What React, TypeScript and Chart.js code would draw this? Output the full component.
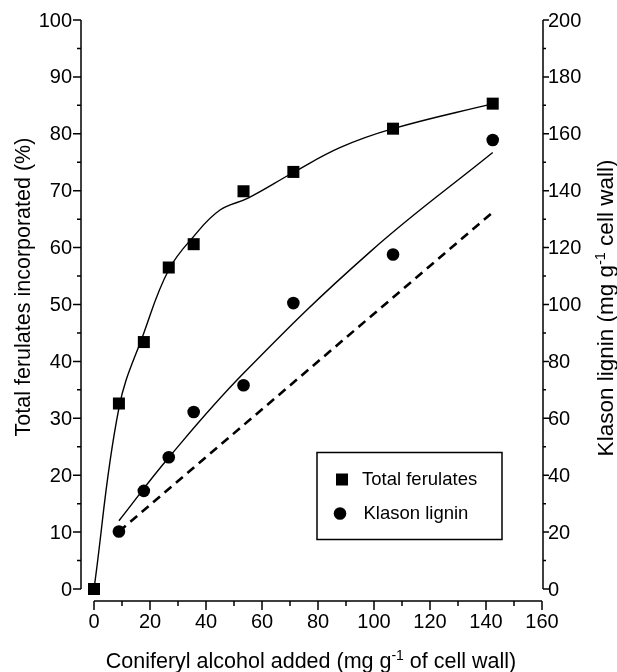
import React, { useEffect, useRef } from 'react';
import { Chart, registerables } from 'chart.js';

Chart.register(...registerables);

// ---- data ----
const additionX = [0, 8.9, 17.8, 26.7, 35.6, 53.4, 71.2, 106.8, 142.4];
const totalFerulates = [0, 32.6, 43.4, 56.5, 60.6, 69.9, 73.3, 80.9, 85.3];

const ligninX = [8.9, 17.8, 26.7, 35.6, 53.4, 71.2, 106.8, 142.4];
const klasonLignin = [20.2, 34.5, 46.3, 62.2, 71.6, 100.5, 117.6, 157.8];

// fitted curves
const ferulatesFitX = [0, 8.9, 17.8, 26.7, 36, 45, 55, 71.2, 88, 106.8, 142.4];
const ferulatesFit = [0, 31.8, 45.0, 56.1, 62.2, 66.6, 68.7, 73.2, 77.6, 80.9, 85.3];

const ligninFitX = [8.9, 26.7, 53.4, 98.6, 142.4];
const ligninFit = [24, 46.2, 75.8, 118.5, 153.4];

const dashedX = [8.9, 142.4];
const dashedY = [20.2, 132.4];

// axes
const xMajor = [0, 20, 40, 60, 80, 100, 120, 140, 160];
const xMinor = [10, 30, 50, 70, 90, 110, 130, 150];
const leftMajor = [0, 10, 20, 30, 40, 50, 60, 70, 80, 90, 100];
const leftMinor = [5, 15, 25, 35, 45, 55, 65, 75, 85, 95];
const rightMajor = [0, 20, 40, 60, 80, 100, 120, 140, 160, 180, 200];
const rightMinor = [10, 30, 50, 70, 90, 110, 130, 150, 170, 190];

const xTitle = ['Coniferyl alcohol added (mg g', '-1', ' of cell wall)'];
const leftTitle = 'Total ferulates incorporated (%)';
const rightTitle = ['Klason lignin (mg g', '-1', ' cell wall)'];

const FONT = '"Liberation Sans", Arial, Helvetica, sans-serif';

const toXY = (xs: number[], ys: number[]) => xs.map((x, i) => ({ x, y: ys[i] }));

function drawRuns(ctx: CanvasRenderingContext2D, parts: string[], cx: number, baseY: number, size: number, supSize: number, supRaise: number) {
  const fonts = parts.map((_, i) => (i % 2 === 1 ? `${supSize}px ${FONT}` : `${size}px ${FONT}`));
  let total = 0;
  const widths = parts.map((p, i) => {
    ctx.font = fonts[i];
    const w = ctx.measureText(p).width;
    total += w;
    return w;
  });
  let x = cx - total / 2;
  ctx.textAlign = 'left';
  ctx.textBaseline = 'alphabetic';
  parts.forEach((p, i) => {
    ctx.font = fonts[i];
    ctx.fillText(p, x, i % 2 === 1 ? baseY - supRaise : baseY);
    x += widths[i];
  });
}

const axesPlugin = {
  id: 'paperAxes',
  afterDraw(chart: any) {
    const ctx: CanvasRenderingContext2D = chart.ctx;
    const xs = chart.scales.x;
    const yl = chart.scales.y;
    const yr = chart.scales.y2;
    const tickFont = `20px ${FONT}`;
    ctx.save();
    ctx.strokeStyle = '#000';
    ctx.fillStyle = '#000';
    ctx.lineWidth = 1.5;

    // left axis (detached)
    const lx = xs.left - 13;
    ctx.beginPath();
    ctx.moveTo(lx, yl.getPixelForValue(100));
    ctx.lineTo(lx, yl.getPixelForValue(0));
    leftMajor.forEach(v => { const y = yl.getPixelForValue(v); ctx.moveTo(lx, y); ctx.lineTo(lx - 8, y); });
    leftMinor.forEach(v => { const y = yl.getPixelForValue(v); ctx.moveTo(lx, y); ctx.lineTo(lx - 4, y); });
    ctx.stroke();
    ctx.font = tickFont;
    ctx.textAlign = 'right';
    ctx.textBaseline = 'middle';
    leftMajor.forEach(v => ctx.fillText(String(v), lx - 9, yl.getPixelForValue(v) + 1));

    // right axis
    const rx = xs.right + 1;
    ctx.beginPath();
    ctx.moveTo(rx, yr.getPixelForValue(200));
    ctx.lineTo(rx, yr.getPixelForValue(0));
    rightMajor.forEach(v => { const y = yr.getPixelForValue(v); ctx.moveTo(rx, y); ctx.lineTo(rx + 6, y); });
    rightMinor.forEach(v => { const y = yr.getPixelForValue(v); ctx.moveTo(rx, y); ctx.lineTo(rx + 3, y); });
    ctx.stroke();
    ctx.textAlign = 'left';
    rightMajor.forEach(v => ctx.fillText(String(v), rx + 5, yr.getPixelForValue(v) + 1));

    // bottom axis (detached)
    const by = yl.bottom + 12;
    ctx.beginPath();
    ctx.moveTo(xs.getPixelForValue(0), by);
    ctx.lineTo(xs.getPixelForValue(160), by);
    xMajor.forEach(v => { const x = xs.getPixelForValue(v); ctx.moveTo(x, by); ctx.lineTo(x, by + 9); });
    xMinor.forEach(v => { const x = xs.getPixelForValue(v); ctx.moveTo(x, by); ctx.lineTo(x, by + 5); });
    ctx.stroke();
    ctx.textAlign = 'center';
    ctx.textBaseline = 'top';
    xMajor.forEach(v => ctx.fillText(String(v), xs.getPixelForValue(v), by + 11));

    // titles
    drawRuns(ctx, xTitle, 311, 668, 21.5, 14, 8);

    ctx.save();
    ctx.translate(30, 287);
    ctx.rotate(-Math.PI / 2);
    drawRuns(ctx, [leftTitle], 0, 0, 21.5, 14, 8);
    ctx.restore();

    ctx.save();
    ctx.translate(613, 308);
    ctx.rotate(-Math.PI / 2);
    drawRuns(ctx, rightTitle, 0, 0, 22.5, 14.5, 8);
    ctx.restore();

    // legend box
    const bx = 317, bTop = 452.5, bw = 185, bh = 87;
    ctx.lineWidth = 1.5;
    ctx.strokeRect(bx, bTop, bw, bh);
    const ds = chart.data.datasets;
    ctx.font = `18.5px ${FONT}`;
    ctx.textAlign = 'left';
    ctx.textBaseline = 'middle';
    ctx.fillRect(bx + 19, bTop + 21, 12, 12);
    ctx.fillText(ds[0].label, bx + 45, bTop + 27.5);
    ctx.beginPath();
    ctx.arc(bx + 23, bTop + 61, 6.3, 0, Math.PI * 2);
    ctx.fill();
    ctx.fillText(ds[1].label, bx + 46.5, bTop + 61.5);

    ctx.restore();
  },
};

export default function App() {
  const canvasRef = useRef<HTMLCanvasElement | null>(null);

  useEffect(() => {
    document.body.style.margin = '0';
    const canvas = canvasRef.current;
    if (!canvas) return;
    const chart = new Chart(canvas, {
      type: 'line',
      data: {
        datasets: [
          {
            label: 'Total ferulates',
            data: toXY(additionX, totalFerulates),
            yAxisID: 'y',
            showLine: false,
            pointStyle: 'rect',
            pointRadius: 8.5,
            pointBackgroundColor: '#000',
            pointBorderWidth: 0,
            borderColor: '#000',
            clip: false,
          },
          {
            label: 'Klason lignin',
            data: toXY(ligninX, klasonLignin),
            yAxisID: 'y2',
            showLine: false,
            pointStyle: 'circle',
            pointRadius: 6.3,
            pointBackgroundColor: '#000',
            pointBorderWidth: 0,
            borderColor: '#000',
            clip: false,
          },
          {
            label: 'Total ferulates fit',
            data: toXY(ferulatesFitX, ferulatesFit),
            yAxisID: 'y',
            borderColor: '#000',
            borderWidth: 1.4,
            pointRadius: 0,
            tension: 0.4,
            fill: false,
            clip: false,
          },
          {
            label: 'Klason lignin fit',
            data: toXY(ligninFitX, ligninFit),
            yAxisID: 'y2',
            borderColor: '#000',
            borderWidth: 1.4,
            pointRadius: 0,
            tension: 0.4,
            fill: false,
            clip: false,
          },
          {
            label: 'Dashed',
            data: toXY(dashedX, dashedY),
            yAxisID: 'y2',
            borderColor: '#000',
            borderWidth: 2.6,
            borderDash: [9, 6],
            pointRadius: 0,
            tension: 0,
            fill: false,
            clip: false,
          },
        ],
      },
      options: {
        animation: false,
        responsive: true,
        maintainAspectRatio: false,
        layout: { padding: { left: 94, right: 75, top: 20, bottom: 83 } },
        plugins: { legend: { display: false }, tooltip: { enabled: false } },
        scales: {
          x: { type: 'linear', min: 0, max: 160, display: false },
          y: { type: 'linear', min: 0, max: 100, display: false },
          y2: { type: 'linear', min: 0, max: 200, display: false },
        },
      },
      plugins: [axesPlugin],
    } as any);
    return () => chart.destroy();
  }, []);

  return (
    <div style={{ width: 617, height: 672, position: 'relative', background: '#fff' }}>
      <canvas ref={canvasRef} />
    </div>
  );
}
